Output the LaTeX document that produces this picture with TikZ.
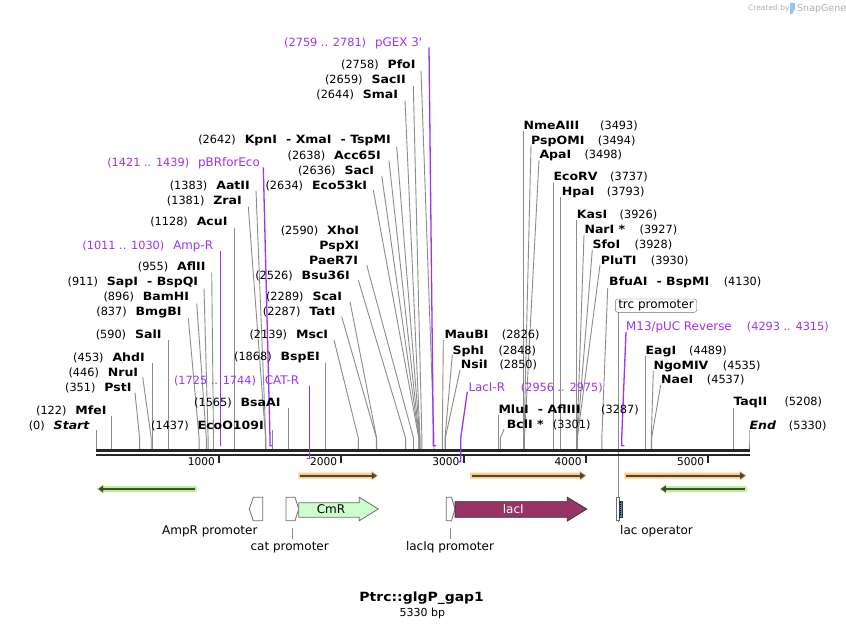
\documentclass[tikz,border=0pt]{standalone}
\usepackage{fontspec}
\setmainfont{DejaVu Sans}[BoldFeatures={FakeStretch=1.1},BoldItalicFeatures={FakeStretch=1.1}]
\usetikzlibrary{arrows.meta}
\definecolor{cutc}{RGB}{140,140,140}
\definecolor{prim}{RGB}{160,50,240}
\definecolor{oglow}{RGB}{255,206,125}
\definecolor{gglow}{RGB}{188,240,140}
\definecolor{darkl}{RGB}{70,70,70}
\definecolor{cmrc}{RGB}{204,255,204}
\definecolor{lacic}{RGB}{153,51,102}
\definecolor{featb}{RGB}{110,110,110}
\definecolor{opc}{RGB}{60,140,175}
\definecolor{logoc}{RGB}{175,175,175}
\definecolor{logob}{RGB}{150,200,230}
\tikzset{
 ename/.style={font=\fontsize{11.4}{12}\selectfont\bfseries,inner sep=0pt},
 enum/.style={font=\fontsize{11.3}{12}\selectfont,inner sep=0pt},
 pname/.style={font=\fontsize{11.9}{12}\selectfont,text=prim,inner sep=0pt},
 pnum/.style={font=\fontsize{11.3}{12}\selectfont,text=prim,inner sep=0pt},
 cutline/.style={draw=cutc,line width=0.9pt},
 primline/.style={draw=prim,line width=1.3pt},
 flabel/.style={font=\fontsize{12}{13}\selectfont,inner sep=0pt},
 rlabel/.style={font=\fontsize{10.6}{12}\selectfont,inner sep=0pt},
 featshape/.style={draw=featb,line width=0.8pt},
}
\newcommand\dsh{\hspace{9pt}-\hspace{4.5pt}}
\newcommand\LE[5]{%
  \node[ename,anchor=base east] (#1) at (#2,#3+4.1) {#5};
  \node[enum,anchor=base east] (#1n) at ([xshift=-8.5pt]#1.base west) {(#4)};}
\newcommand\RE[6]{%
  \node[ename,anchor=base west] (#1) at (#2,#3+4.1) {#4};
  \node[enum,anchor=base west] (#1n) at (#6,#3+4.1) {(#5)};}
\newcommand\REg[5]{%
  \node[ename,anchor=base west] (#1) at (#2,#3+4.1) {#4};
  \node[enum,anchor=base west] (#1n) at ([xshift=14pt]#1.base east) {(#5)};}
\newcommand\LP[5]{%
  \node[pname,anchor=base east] (#1) at (#2,#3+4.1) {#5};
  \node[pnum,anchor=base east] (#1n) at ([xshift=-8.5pt]#1.base west) {(#4)};}
\newcommand\RP[6]{%
  \node[pname,anchor=base west] (#1) at (#2,#3+4.1) {#4};
  \node[pnum,anchor=base west] (#1n) at (#6,#3+4.1) {(#5)};}
\newcommand\CUT[4]{%
  \coordinate (#1a) at (#2,#3); \coordinate (#1b) at (#4,438); \coordinate (#1c) at (#4,449);
  \draw[cutline] (#1a) -- (#1b) -- (#1c);}
\newcommand\ORA[3]{%
  \fill[oglow] (#1,#3-3) -- (#2-7,#3-3) -- (#2-7,#3-5) -- (#2,#3) -- (#2-7,#3+5) -- (#2-7,#3+3) -- (#1,#3+3) -- cycle;
  \draw[darkl,line width=1.7pt,-{Triangle[length=5pt,width=6.5pt]}] (#1+2,#3) -- (#2-1.5,#3);}
\newcommand\GLA[3]{%
  \fill[gglow] (#2,#3-3) -- (#1+7,#3-3) -- (#1+7,#3-5) -- (#1,#3) -- (#1+7,#3+5) -- (#1+7,#3+3) -- (#2,#3+3) -- cycle;
  \draw[darkl,line width=1.7pt,-{Triangle[length=5pt,width=6.5pt]}] (#2-2,#3) -- (#1+1.5,#3);}
\begin{document}
\begin{tikzpicture}[x=1pt,y=-1pt]
\useasboundingbox[fill=white] (0,0) rectangle (846,628);

% ---------- cut lines (left) ----------
\CUT{cStart}{96.7}{430}{96.7}
\CUT{cMfeI}{111.6}{416}{111.6}
\CUT{cPstI}{135}{392.7}{139.6}
\CUT{cNruI}{142.7}{377.3}{151.2}
\CUT{cAhdI}{152.1}{362.7}{152.1}
\CUT{cSalI}{168.9}{340}{168.9}
\CUT{cBmgBI}{188.3}{318.3}{199.1}
\CUT{cBamHI}{196.7}{303.3}{206.3}
\CUT{cSapI}{204}{288.3}{208.1}
\CUT{cAflII}{211.7}{272.7}{213.5}
\CUT{cAcuI}{234.7}{228.3}{234.7}
\CUT{cZraI}{248.3}{206.7}{265.6}
\CUT{cAatII}{256}{190.7}{265.8}
\CUT{cEcoO}{272.4}{430}{272.4}
\CUT{cBsaAI}{288.1}{408.3}{288.1}
\CUT{cBspEI}{325.2}{363}{325.2}
\CUT{cMscI}{334}{340}{358.3}
\CUT{cTatI}{341.7}{316.7}{376.4}
\CUT{cScaI}{350}{301.7}{376.6}
\CUT{cBsu}{358.3}{280}{405.6}
\CUT{cPaeR}{366.7}{265}{413.5}
\CUT{cEcoS}{373.3}{190}{418.8}
\CUT{cSacI}{381.7}{175.7}{419}
\CUT{cAcc}{389}{160.7}{419.3}
\CUT{cKpnI}{396.7}{146.7}{419.8}
\CUT{cSmaI}{405}{100.7}{420}
\CUT{cSacII}{413.3}{86}{421.9}
\CUT{cPfoI}{421}{70.7}{434}
% ---------- cut lines (right) ----------
\CUT{cNmeA}{523.9}{131}{523.9}
\CUT{cPspO}{531}{145}{524}
\CUT{cApaI}{539}{160}{524.5}
\CUT{cEcoRV}{553.7}{182.7}{553.7}
\CUT{cHpaI}{560.6}{197}{560.6}
\CUT{cKasI}{576.8}{220}{576.8}
\CUT{cNarI}{584}{235}{577}
\CUT{cSfoI}{592.3}{250}{577.1}
\CUT{cPluTI}{600}{265}{577.3}
\CUT{cBfuAI}{607.7}{288.3}{601.8}
\CUT{cMauBI}{443.3}{340}{442.3}
\CUT{cSphI}{452.3}{355}{445}
\CUT{cNsiI}{460}{370}{445.3}
\CUT{cMluI}{498.7}{415}{498.7}
\CUT{cBclI}{504}{429.3}{500.4}
\CUT{cEagI}{645.7}{356}{645.7}
\CUT{cNgoM}{653.3}{371}{651.3}
\CUT{cNaeI}{660.7}{385}{651.6}
\CUT{cTaqII}{733.7}{408}{733.7}
\CUT{cEnd}{749}{430}{749}

% trc promoter
\node[draw=featb,rounded corners=2.5pt,minimum width=81.4pt,minimum height=13.3pt,inner sep=0pt,flabel] (trc) at (656,305.7) {trc promoter};
\coordinate (trcA) at (618.5,312.3);
\coordinate (trcB) at (618.5,521.7);
\draw[cutline] (trcA) -- (trcB);

% ---------- ruler ----------
\coordinate (rl1) at (96,450.3); \coordinate (rr1) at (749.5,450.3);
\coordinate (rl2) at (96,454.6); \coordinate (rr2) at (749.5,454.6);
\draw[line width=2.6pt,black!85] (rl1) -- (rr1);
\draw[line width=2pt,black!85] (rl2) -- (rr2);
\foreach \t/\lab in {219/1000,341.3/2000,463.6/3000,585.9/4000,708.2/5000}{
  \draw[line width=2pt,black!85] (\t,455.5) -- (\t,462.5);
  \node[rlabel,anchor=base east] at (\t-4,465) {\lab};
}

% ---------- primer lines ----------
\coordinate (pGa) at (429,47.3); \coordinate (pGb) at (433.3,438); \coordinate (pGc) at (433.3,445.7); \coordinate (pGd) at (436,445.7);
\draw[primline] (pGa) -- (pGb) -- (pGc) -- (pGd);
\coordinate (pBa) at (263.3,167.3); \coordinate (pBb) at (270,438); \coordinate (pBc) at (270,445.7); \coordinate (pBd) at (272.6,445.7);
\draw[primline] (pBa) -- (pBb) -- (pBc) -- (pBd);
\coordinate (pAa) at (220.7,251); \coordinate (pAb) at (220.7,445.7);
\draw[primline] (pAa) -- (pAb);
\coordinate (pCa) at (309.2,386); \coordinate (pCb) at (309.2,458.3); \coordinate (pCc) at (306.6,458.3);
\draw[primline] (pCa) -- (pCb) -- (pCc);
\coordinate (pLa) at (467.3,391.7); \coordinate (pLb) at (460.7,438); \coordinate (pLc) at (460.7,461.7); \coordinate (pLd) at (458.1,461.7);
\draw[primline] (pLa) -- (pLb) -- (pLc) -- (pLd);
\coordinate (pMa) at (626,332); \coordinate (pMb) at (621.7,438); \coordinate (pMc) at (621.7,445.7); \coordinate (pMd) at (624.3,445.7);
\draw[primline] (pMa) -- (pMb) -- (pMc) -- (pMd);

% ---------- left labels ----------
\LE{Start}{90}{425}{0}{\textit{Start}}
\LE{MfeI}{106.7}{410}{122}{MfeI}
\LE{PstI}{131.7}{387}{351}{PstI}
\LE{NruI}{138.3}{372}{446}{NruI}
\LE{AhdI}{145}{357}{453}{AhdI}
\LE{SalI}{161.7}{334.3}{590}{SalI}
\LE{BmgBI}{181.7}{311.7}{837}{BmgBI}
\LE{BamHI}{189.3}{296.7}{896}{BamHI}
\LE{SapI}{198.3}{281.7}{911}{SapI\dsh BspQI}
\LE{AflII}{205.7}{266.7}{955}{AflII}
\LE{AcuI}{227.7}{221.7}{1128}{AcuI}
\LE{ZraI}{242}{200}{1381}{ZraI}
\LE{AatII}{250}{185}{1383}{AatII}
\LE{EcoOI}{264}{425}{1437}{EcoO109I}
\LE{BsaAI}{280.7}{402.3}{1565}{BsaAI}
\LE{BspEI}{320}{356.7}{1868}{BspEI}
\LE{MscI}{328.3}{334.3}{2139}{MscI}
\LE{TatI}{335.7}{311.7}{2287}{TatI}
\LE{ScaI}{342.3}{296.7}{2289}{ScaI}
\LE{Bsu}{350}{275}{2526}{Bsu36I}
\node[ename,anchor=base east] (PaeR) at (358.3,264.1) {PaeR7I};
\node[ename,anchor=base east] (PspX) at (359.3,249.1) {PspXI};
\LE{XhoI}{359.3}{230}{2590}{XhoI}
\LE{EcoS}{367.3}{185}{2634}{Eco53kI}
\LE{SacI}{374.3}{170}{2636}{SacI}
\LE{Acc}{381}{155}{2638}{Acc65I}
\LE{KpnI}{391}{139.3}{2642}{KpnI\dsh XmaI\dsh TspMI}
\LE{SmaI}{398.3}{94.3}{2644}{SmaI}
\LE{SacII}{406}{79.3}{2659}{SacII}
\LE{PfoI}{415.7}{64.3}{2758}{PfoI}
\LP{AmpR}{213.3}{245.7}{1011 .. 1030}{Amp-R}
\LP{pBR}{260}{162.3}{1421 .. 1439}{pBRforEco}
\LP{CATR}{299.3}{380}{1725 .. 1744}{CAT-R}
\LP{pGEX}{422.3}{42.3}{2759 .. 2781}{pGEX 3\textquotesingle}

% ---------- right labels ----------
\RE{NmeA}{523.3}{125}{NmeAIII}{3493}{600}
\RE{PspO}{531}{140}{PspOMI}{3494}{597.7}
\RE{ApaI}{539.3}{154.3}{ApaI}{3498}{584.3}
\RE{EcoRV}{553.3}{176.7}{EcoRV}{3737}{610}
\RE{HpaI}{561.7}{191.7}{HpaI}{3793}{606.7}
\RE{KasI}{576.7}{214.3}{KasI}{3926}{619.5}
\REg{NarI}{584.3}{229}{NarI *}{3927}
\REg{SfoI}{592.3}{244.3}{SfoI}{3928}
\REg{PluTI}{600.7}{260}{PluTI}{3930}
\REg{BfuAI}{609}{281.7}{BfuAI\dsh BspMI}{4130}
\RE{MauBI}{444.3}{334.3}{MauBI}{2826}{501.7}
\RE{SphI}{452.3}{350}{SphI}{2848}{498.3}
\RE{NsiI}{460.7}{364.3}{NsiI}{2850}{499.3}
\RE{MluI}{498.3}{409.3}{MluI\dsh AflIII}{3287}{601}
\RE{BclI}{506.7}{424}{BclI *}{3301}{552.7}
\RE{EagI}{645.3}{350}{EagI}{4489}{689}
\RE{NgoM}{653.3}{365}{NgoMIV}{4535}{722.7}
\RE{NaeI}{661}{379.3}{NaeI}{4537}{706.7}
\RE{TaqII}{733.3}{401.7}{TaqII}{5208}{784.3}
\RE{End}{749.3}{425}{\textit{End}}{5330}{788.7}
\RP{LacIR}{468.3}{387.3}{LacI-R}{2956 .. 2975}{520.7}
\RP{M13}{626}{326.7}{M13/pUC Reverse}{4293 .. 4315}{746.7}

% ---------- highlighted arrows ----------
\ORA{298.3}{378.3}{475.7}
\ORA{470}{586.7}{475.7}
\ORA{624.3}{746.7}{475.7}
\GLA{96.7}{196.7}{489}
\GLA{659.3}{746.7}{489}

% ---------- features ----------
\draw[featshape,fill=white] (262.7,497.3) -- (262.7,520.7) -- (253.3,520.7) -- (249.3,509) -- (253.3,497.3) -- cycle;
\draw[featshape,fill=white] (286,497.3) -- (295,497.3) -- (298.7,509) -- (295,520.7) -- (286,520.7) -- cycle;
\draw[featshape,fill=cmrc] (298.7,502.7) -- (359.3,502.7) -- (359.3,497.3) -- (378.3,509) -- (359.3,520.7) -- (359.3,517.3) -- (298.7,517.3) -- cycle;
\node[flabel,anchor=base] (cmr) at (331,513.3) {CmR};
\draw[featshape,fill=white] (446.3,497.3) -- (451.5,497.3) -- (455,509) -- (451.5,520.7) -- (446.3,520.7) -- cycle;
\draw[draw=black!80,line width=0.8pt,fill=lacic] (455,501.7) -- (567.3,501.7) -- (567.3,497.3) -- (586.7,509) -- (567.3,521) -- (567.3,517.3) -- (455,517.3) -- cycle;
\node[flabel,anchor=base,text=white] (laci) at (513.3,513.3) {lacI};
% lac operator
\draw[featshape,fill=white] (616,497.5) rectangle (619.2,520.5);
\draw[draw=black!80,line width=0.6pt,fill=opc] (619.7,501) rectangle (622.7,517);
\draw[black,line width=1pt,dash pattern=on 1pt off 1pt] (620.4,502) -- (620.4,516);

% feature labels and leaders
\node[flabel,anchor=base] (ampp) at (209.8,534.3) {AmpR promoter};
\coordinate (catA) at (292.3,528.3); \coordinate (catB) at (292.3,539.3);
\draw[cutline] (catA) -- (catB);
\node[flabel,anchor=base] (catp) at (289.7,550.7) {cat promoter};
\coordinate (lqA) at (450,528.3); \coordinate (lqB) at (450,539.3);
\draw[cutline] (lqA) -- (lqB);
\node[flabel,anchor=base] (lqp) at (450,550.7) {lacIq promoter};
\node[flabel,anchor=base west] (lop) at (620,534.3) {lac operator};

% ---------- title ----------
\node[font=\fontsize{12.7}{15}\selectfont\bfseries,inner sep=0pt,anchor=base] (title) at (421.7,601.7) {Ptrc::glgP\_gap1};
\node[font=\fontsize{11}{12}\selectfont,inner sep=0pt,anchor=base] (size) at (422.3,616) {5330 bp};

% ---------- credit ----------
\node[font=\fontsize{7.5}{8}\selectfont,text=logoc,inner sep=0pt,anchor=base west] (cby) at (748,11) {Created by};
\fill[logob] (790,3) -- (795,3) -- (795,9) -- (792,14) -- (790,14) -- cycle;
\node[font=\fontsize{9.5}{10}\selectfont,text=logoc,inner sep=0pt,anchor=base west] (sg) at (797,12) {SnapGene};
\end{tikzpicture}
\end{document}
